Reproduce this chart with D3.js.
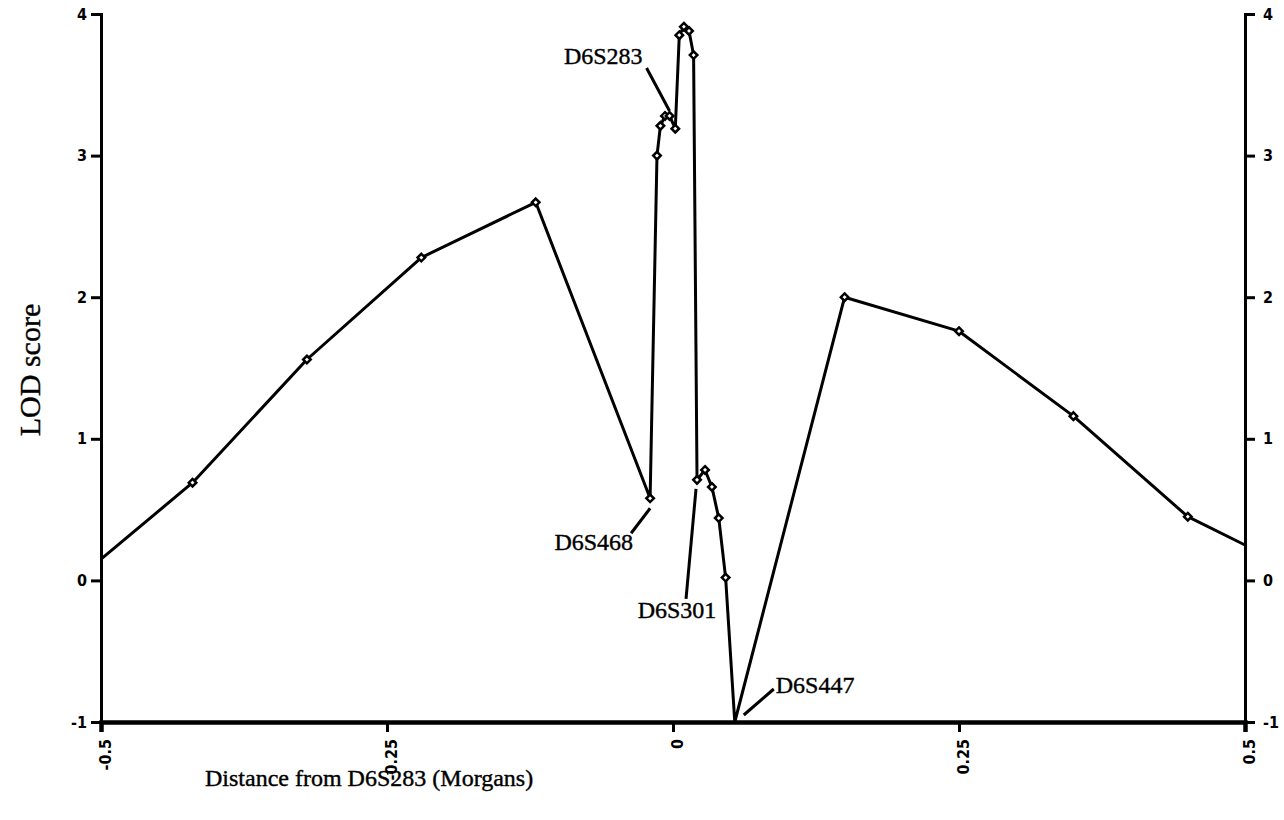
<!DOCTYPE html>
<html>
<head>
<meta charset="utf-8">
<script src="https://cdn.jsdelivr.net/npm/d3@7"></script>
<style>
  body { margin: 0; background: #fff; }
  svg { display: block; }
  .serif { font-family: "Liberation Serif", "Times New Roman", serif; fill: #000; stroke: #000; stroke-width: 0.4px; }
</style>
</head>
<body>
<svg id="chart" width="1284" height="820"></svg>
<script>
// distance from D6S283 (Morgans) and LOD score
const distance = [-0.5, -0.42, -0.32, -0.22, -0.12, -0.02, -0.014, -0.011, -0.007, -0.003, 0.002,
  0.0055, 0.0095, 0.014, 0.018, 0.021, 0.028, 0.034, 0.040, 0.046, 0.054, 0.15, 0.25, 0.35, 0.45, 0.5];
const lod = [0.15, 0.69, 1.56, 2.28, 2.67, 0.58, 3.0, 3.21, 3.28, 3.28, 3.19,
  3.85, 3.91, 3.88, 3.71, 0.71, 0.78, 0.66, 0.44, 0.02, -1.0, 2.0, 1.76, 1.16, 0.45, 0.25];

const markerNames = ['D6S468', 'D6S283', 'D6S301', 'D6S447'];
const markerDistance = [-0.02, -0.003, 0.021, 0.054];
const markerLod = [0.58, 3.28, 0.71, -1.0];

const xTicks = [-0.5, -0.25, 0, 0.25, 0.5];
const xTickLabels = ['-0.5', '-0.25', '0', '0.25', '0.5'];
const yTicks = [-1, 0, 1, 2, 3, 4];
const yTickLabels = ['-1', '0', '1', '2', '3', '4'];

// label placement, pixel offsets from the marker point
const labelLayout = [
  { lx1: 0, ly1: 10, lx2: -19, ly2: 35, tx: -17, ty: 52, anchor: 'end' },
  { lx1: 0, ly1: -5, lx2: -23, ly2: -48, tx: -27, ty: -52, anchor: 'end' },
  { lx1: -1, ly1: 9, lx2: -11, ly2: 119, tx: -20, ty: 138, anchor: 'middle' },
  { lx1: 9, ly1: -7, lx2: 39, ly2: -33, tx: 41, ty: -29, anchor: 'start' }
];

const svg = d3.select('#chart');
const plotLeft = 101, plotRight = 1245, plotTop = 14, plotBottom = 722;

const x = d3.scaleLinear().domain([-0.5, 0.5]).range([plotLeft, plotRight]);
const y = d3.scaleLinear().domain([-1, 4]).range([plotBottom, plotTop]);

function styleTicks(g) {
  g.attr('font-family', '"DejaVu Sans Condensed", "Liberation Sans Narrow", Arial, sans-serif')
    .attr('font-size', 16)
    .attr('font-weight', 'bold');
  g.selectAll('.tick line').attr('stroke', '#000').attr('stroke-width', 3);
  g.selectAll('.tick text').attr('fill', '#000');
}

// axes
const gy = svg.append('g').attr('transform', `translate(${plotLeft},0)`)
  .call(d3.axisLeft(y).tickValues(yTicks).tickSize(10).tickPadding(4).tickFormat((d, i) => yTickLabels[i]));
const gy2 = svg.append('g').attr('transform', `translate(${plotRight},0)`)
  .call(d3.axisRight(y).tickValues(yTicks).tickSize(10).tickPadding(8).tickFormat((d, i) => yTickLabels[i]));
[gy, gy2].forEach(g => {
  styleTicks(g);
  g.select('.domain').attr('stroke', '#000').attr('stroke-width', 3);
});

const gx = svg.append('g').attr('transform', `translate(0,${plotBottom})`)
  .call(d3.axisBottom(x).tickValues(xTicks).tickSize(10).tickFormat((d, i) => xTickLabels[i]));
styleTicks(gx);
gx.select('.domain').attr('stroke', '#000').attr('stroke-width', 4.5);
gx.selectAll('.tick text')
  .attr('transform', 'rotate(-90)')
  .attr('text-anchor', 'end')
  .attr('x', -17)
  .attr('y', 0)
  .attr('dy', '0.6em');

// LOD curve
const pts = distance.map((d, i) => [d, lod[i]]);
svg.append('path')
  .datum(pts)
  .attr('fill', 'none')
  .attr('stroke', '#000')
  .attr('stroke-width', 3)
  .attr('stroke-linejoin', 'round')
  .attr('d', d3.line().x(d => x(d[0])).y(d => y(d[1])));

// diamond markers on interior points
svg.append('g').selectAll('path')
  .data(pts.filter(d => d[0] > -0.5 && d[0] < 0.5 && d[1] > -1))
  .enter().append('path')
  .attr('transform', d => `translate(${x(d[0])},${y(d[1])})`)
  .attr('d', d3.symbol(d3.symbolDiamond2, 36))
  .attr('fill', '#fff')
  .attr('stroke', '#000')
  .attr('stroke-width', 2.5);

// marker name labels with leader lines
const lab = svg.append('g');
markerNames.forEach((name, i) => {
  const px = x(markerDistance[i]), py = y(markerLod[i]);
  const l = labelLayout[i];
  lab.append('line')
    .attr('x1', px + l.lx1).attr('y1', py + l.ly1)
    .attr('x2', px + l.lx2).attr('y2', py + l.ly2)
    .attr('stroke', '#000').attr('stroke-width', 3);
  lab.append('text')
    .attr('class', 'serif')
    .attr('x', px + l.tx).attr('y', py + l.ty)
    .attr('text-anchor', l.anchor)
    .attr('font-size', 24)
    .text(name);
});

// axis titles
svg.append('text')
  .attr('class', 'serif')
  .attr('transform', 'translate(40,370) rotate(-90)')
  .attr('text-anchor', 'middle')
  .attr('font-size', 30)
  .text('LOD score');

svg.append('text')
  .attr('class', 'serif')
  .attr('x', 205).attr('y', 786)
  .attr('font-size', 24)
  .text('Distance from D6S283 (Morgans)');
</script>
</body>
</html>
